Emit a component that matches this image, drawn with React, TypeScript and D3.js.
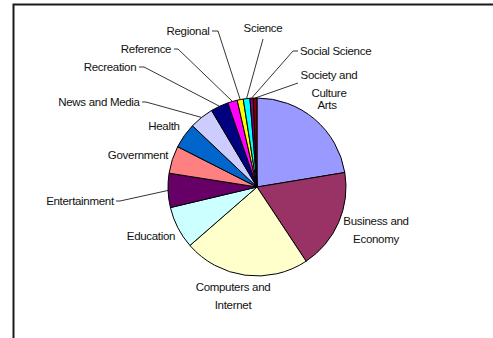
import React from "react";
import * as d3 from "d3";

const categories = [
  "Arts",
  "Business and Economy",
  "Computers and Internet",
  "Education",
  "Entertainment",
  "Government",
  "Health",
  "News and Media",
  "Recreation",
  "Reference",
  "Regional",
  "Science",
  "Social Science",
  "Society and Culture",
];

const shares = [22.4, 18.3, 22.9, 7.7, 6.2, 5.0, 4.6, 4.4, 3.2, 1.75, 1.1, 1.2, 0.6, 0.67];

const colors = [
  "#9999FF", "#993366", "#FFFFCC", "#CCFFFF", "#660066", "#FF8080", "#0066CC",
  "#CCCCFF", "#000080", "#FF00FF", "#FFFF00", "#00FFFF", "#800080", "#800000",
];

const labelLines = [
  ["Arts"],
  ["Business and", "Economy"],
  ["Computers and", "Internet"],
  ["Education"],
  ["Entertainment"],
  ["Government"],
  ["Health"],
  ["News and Media"],
  ["Recreation"],
  ["Reference"],
  ["Regional"],
  ["Science"],
  ["Social Science"],
  ["Society and", "Culture"],
];

// label layout: [x, y, anchor, leader start x, leader start y, elbow x] (elbow null = none, start null = no leader)
type Layout = { x: number; y: number; anchor: string; lead?: [number, number][] };
const layouts: Layout[] = [
  { x: 327, y: 105, anchor: "middle" },
  { x: 376, y: 221, anchor: "middle" },
  { x: 233, y: 287, anchor: "middle" },
  { x: 151, y: 236, anchor: "middle" },
  { x: 80, y: 201, anchor: "middle", lead: [[116, 201], [120, 201]] },
  { x: 138, y: 155, anchor: "middle" },
  { x: 164, y: 126, anchor: "middle" },
  { x: 99, y: 102, anchor: "middle", lead: [[142, 102], [146, 102]] },
  { x: 110, y: 67, anchor: "middle", lead: [[139, 67], [144, 67]] },
  { x: 146, y: 49, anchor: "middle", lead: [[174, 49], [178, 49]] },
  { x: 188, y: 31, anchor: "middle", lead: [[212, 31], [218, 31]] },
  { x: 263, y: 28, anchor: "middle", lead: [[263, 39]] },
  { x: 300, y: 51, anchor: "start", lead: [[298, 51], [293, 51]] },
  { x: 329, y: 75, anchor: "middle", lead: [[298, 83]] },
];

const W = 493;
const H = 338;
const cx = 257;
const cy = 187;
const R = 89;

export default function App() {
  const pie = d3
    .pie<number>()
    .sort(null)
    .value((d) => d)
    .startAngle(0)
    .endAngle(2 * Math.PI);
  const arcs = pie(shares);
  const arc = d3.arc<d3.PieArcDatum<number>>().innerRadius(0).outerRadius(R);
  const line = d3.line();

  return (
    <svg
      width={W}
      height={H}
      style={{ position: "absolute", left: 0, top: 0, background: "#fff" }}
      fontFamily="'Liberation Sans', Arial, sans-serif"
    >
      <rect x={13.5} y={4.5} width={600} height={600} fill="none" stroke="#1a1a1a" strokeWidth={2} />
      <g transform={`translate(${cx},${cy})`}>
        {arcs.map((a, i) => (
          <path key={i} d={arc(a) || ""} fill={colors[i]} stroke="#000" strokeWidth={1} />
        ))}
      </g>
      {arcs.map((a, i) => {
        const L = layouts[i];
        if (!L.lead) return null;
        const mid = (a.startAngle + a.endAngle) / 2;
        const px = cx + R * Math.sin(mid);
        const py = cy - R * Math.cos(mid);
        const pts: [number, number][] = [...L.lead, [px, py]];
        return <path key={"l" + i} d={line(pts) || ""} fill="none" stroke="#000" strokeWidth={0.8} />;
      })}
      {categories.map((c, i) => {
        const L = layouts[i];
        return (
          <text
            key={"t" + i}
            x={L.x}
            y={L.y}
            textAnchor={L.anchor as any}
            fontSize={11.5}
            fill="#111"
            letterSpacing={-0.3}
          >
            {labelLines[i].map((ln, j) => (
              <tspan key={j} x={L.x} y={L.y + j * 18} dy="0.35em">
                {ln}
              </tspan>
            ))}
          </text>
        );
      })}
    </svg>
  );
}
